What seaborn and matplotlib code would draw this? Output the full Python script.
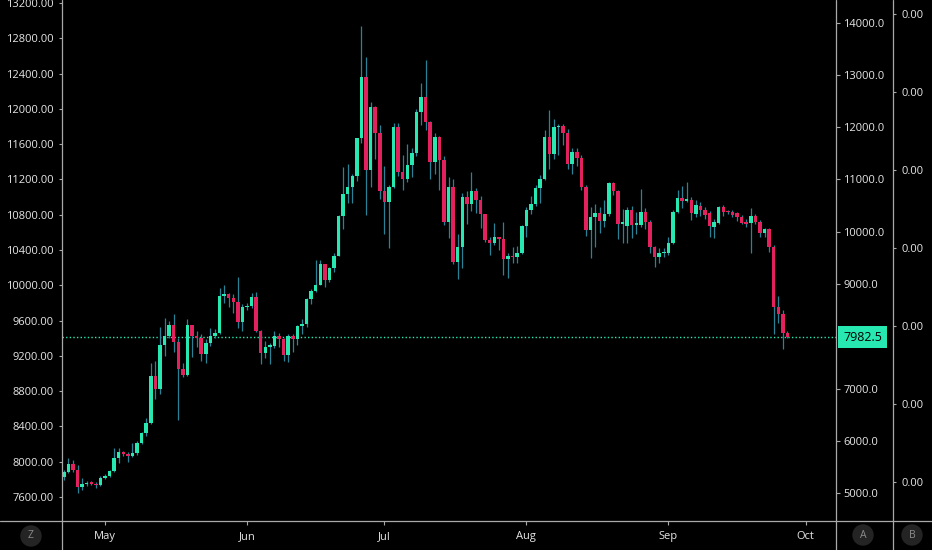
import numpy as np
import pandas as pd
import seaborn as sns
import matplotlib.pyplot as plt
import matplotlib.dates as mdates
from matplotlib.lines import Line2D

# Daily candles, 22 Apr - 27 Sep 2019 (values on the right price scale)
days = pd.date_range("2019-04-22", "2019-09-27", freq="D")

opens = [
    5310, 5410, 5550, 5440, 5120, 5170, 5200, 5180, 5150,
    5290, 5333, 5420, 5680, 5790, 5750, 5710, 5760, 5950, 6150,
    6340, 7230, 6990, 7830, 8000, 8210, 7890, 7370, 7260, 8210,
    8000, 7960, 7670, 7880, 8000, 8070, 8770, 8800, 8740, 8660, 8270,
    8560, 8580, 8750, 8100, 7680, 7800, 7820, 8000, 7940, 7640,
    8010, 7940, 8200, 8240, 8710, 8870, 8990, 9380, 9080, 9300,
    9540, 10300, 10720, 10850, 11060, 11790, 12955, 11180, 12380, 11880,
    10780, 10570, 10850, 12010, 11150, 11000, 11270, 11500, 12290, 12580,
    12100, 11330, 11810, 11380, 10190, 10850, 9420, 9710, 10660, 10530,
    10770, 10600, 10330, 9850, 9780, 9890, 9860, 9470, 9540, 9510, 9600,
    10110, 10420, 10540, 10830, 11000, 11820, 11480, 12000, 12030, 11880,
    11300, 11520, 11410, 10860, 10030, 10280, 10350, 10200, 10339, 10938,
    10785, 10148, 10110, 10416, 10129, 10129, 10384, 10192, 9702, 9510, 9590,
    9599, 9779, 10384, 10640, 10594, 10607, 10340, 10490, 10416, 10352,
    10100, 10174, 10470, 10395, 10384, 10350, 10280, 10174, 10160, 10300,
    10193, 9970, 10046, 9715, 8560, 8430, 8060,
]
highs = [
    5450, 5670, 5640, 5530, 5280, 5230, 5230, 5210, 5330,
    5360, 5450, 5860, 5860, 5810, 5780, 5960, 5990, 6170, 6430,
    7490, 7520, 8180, 8340, 8300, 8430, 7960, 7480, 8330, 8220,
    8100, 8050, 7950, 8150, 8130, 8920, 8980, 8820, 8800, 9130, 8620,
    8630, 8820, 8840, 8120, 7900, 7870, 8110, 8060, 7960, 8050,
    8040, 8220, 8330, 8730, 8900, 9450, 9460, 9390, 9330, 9600,
    10320, 11240, 11300, 11100, 11800, 13940, 13350, 12480, 12400, 12050,
    11250, 10900, 12080, 12080, 11460, 11680, 11600, 12350, 12850, 13280,
    12120, 11880, 11830, 11450, 11050, 11000, 9950, 10750, 10770, 11140,
    10840, 10680, 10340, 9900, 10170, 9890, 10190, 9600, 9700, 9720, 10120,
    10480, 10680, 10900, 11080, 11950, 12330, 12150, 12060, 12060, 11960,
    11600, 11600, 11460, 10890, 10470, 10540, 10470, 10600, 10950, 10960,
    10800, 10440, 10480, 10500, 10380, 10810, 10450, 10220, 9730, 9690, 9690,
    9900, 10420, 10800, 10870, 10960, 10660, 10600, 10560, 10480, 10400,
    10250, 10500, 10520, 10420, 10420, 10380, 10320, 10250, 10448, 10330,
    10230, 10080, 10080, 9740, 8770, 8500, 8110,
]
lows = [
    5250, 5380, 5410, 5000, 5060, 5130, 5150, 5090, 5130,
    5270, 5310, 5400, 5580, 5700, 5590, 5690, 5720, 5930, 6100,
    6330, 6800, 6900, 7620, 7970, 7700, 6400, 7220, 7240, 7600,
    7800, 7520, 7480, 7820, 7960, 8040, 8630, 8560, 8450, 8150, 8100,
    8500, 8540, 8080, 7470, 7580, 7460, 7770, 7800, 7520, 7500,
    7700, 7830, 8050, 8170, 8620, 8850, 8980, 8950, 9040, 9230,
    9530, 10050, 10550, 10550, 10980, 11700, 10320, 10860, 11400, 10630,
    9960, 9690, 10830, 11070, 10800, 10960, 11050, 11450, 12050, 11950,
    11000, 11100, 10800, 10130, 9880, 9380, 9100, 9300, 10150, 10400,
    10350, 10080, 9800, 9550, 9740, 9650, 9180, 9120, 9400, 9400, 9580,
    9900, 10330, 10500, 10550, 10990, 11200, 11400, 11460, 11650, 11200,
    11100, 11250, 10800, 9920, 9490, 9700, 9980, 10100, 10300, 10700,
    9870, 9780, 9780, 9880, 9950, 10100, 10050, 9600, 9330, 9400, 9510,
    9550, 9760, 10360, 10450, 10560, 10224, 10280, 10300, 10250, 9906,
    9874, 10150, 10300, 10330, 10280, 10200, 10140, 10100, 9587, 10150,
    9900, 9900, 9620, 8040, 8250, 7756, 7960,
]
closes = [
    5410, 5550, 5440, 5120, 5170, 5200, 5180, 5150, 5290,
    5333, 5420, 5680, 5790, 5750, 5710, 5760, 5950, 6150, 6340,
    7230, 6990, 7830, 8000, 8210, 7890, 7370, 7260, 8210, 8000,
    7960, 7670, 7880, 8000, 8070, 8770, 8800, 8740, 8660, 8270, 8560,
    8580, 8750, 8100, 7680, 7800, 7820, 8000, 7940, 7640, 8010,
    7940, 8200, 8240, 8710, 8870, 8990, 9380, 9080, 9300, 9540,
    10300, 10720, 10850, 11060, 11790, 12955, 11180, 12380, 11880, 10780,
    10570, 10850, 12010, 11150, 11000, 11270, 11500, 12290, 12580, 12100,
    11330, 11810, 11380, 10190, 10850, 9420, 9710, 10660, 10530, 10770,
    10600, 10330, 9850, 9780, 9890, 9860, 9470, 9540, 9510, 9600, 10110,
    10420, 10540, 10830, 11000, 11820, 11480, 12000, 12030, 11880, 11300,
    11520, 11410, 10860, 10030, 10280, 10350, 10200, 10339, 10938, 10785,
    10148, 10192, 10416, 10129, 10160, 10384, 10192, 9702, 9510, 9587, 9620,
    9790, 10384, 10640, 10594, 10610, 10352, 10512, 10416, 10320, 10110,
    10193, 10470, 10384, 10370, 10320, 10280, 10174, 10150, 10300, 10193,
    9970, 10046, 9715, 8560, 8430, 8060, 7982.5,
]

last_price = 7982.5
left_ticks = [7600, 8000, 8400, 8800, 9200, 9600, 10000, 10400, 10800,
              11200, 11600, 12000, 12400, 12800, 13200]
right_ticks = [5000, 6000, 7000, 9000, 10000, 11000, 12000, 13000, 14000]
month_starts = pd.date_range("2019-05-01", "2019-10-01", freq="MS")
month_labels = ["May", "Jun", "Jul", "Aug", "Sep", "Oct"]

UP = "#26e8b0"
DOWN = "#e3215f"
WICK = "#2a8296"
TXT = "#e6e6e6"
LINE = "#a9a9a9"
BG = "#000000"

sns.set_style("dark", {"axes.facecolor": BG, "figure.facecolor": BG})
plt.rcParams["font.family"] = ["Open Sans", "DejaVu Sans"]

df = pd.DataFrame({"x": mdates.date2num(days), "open": opens, "high": highs,
                   "low": lows, "close": closes})
df["up"] = df["close"] >= df["open"]
df["bottom"] = df[["open", "close"]].min(axis=1)
df["body"] = (df["close"] - df["open"]).abs().clip(lower=28)

W, H = 932, 550
fig = plt.figure(figsize=(W / 100, H / 100), dpi=100)
ax = fig.add_axes([62 / W, 29 / H, 774 / W, 521 / H])
ax2 = ax.twinx()
ax3 = ax.twinx()

# candles on the right price scale
ax2.vlines(df["x"], df["low"], df["high"], color=WICK, lw=0.9, zorder=2)
ax2.bar(df["x"], df["body"], bottom=df["bottom"], width=0.76,
        color=np.where(df["up"], UP, DOWN), linewidth=0, zorder=3)
ax2.axhline(last_price, color=UP, lw=1, ls=(0, (1, 1.6)), zorder=1)

x0 = mdates.date2num(pd.Timestamp("2019-05-01"))
ax.set_xlim(x0 - 9.39, x0 + 159.6)
ax.set_ylim(7328, 13234)
ax2.set_ylim(4465, 14434)
ax3.set_ylim(0, 1)

ax.set_xticks(mdates.date2num(month_starts))
ax.set_xticklabels(month_labels)
ax.set_yticks(left_ticks)
ax.set_yticklabels([f"{v:.2f}" for v in left_ticks])
ax2.set_yticks(right_ticks)
ax2.set_yticklabels([f"{v:.1f}" for v in right_ticks])
ax3.spines["right"].set_position(("axes", 1.0736))
ax3.set_yticks(np.linspace(0.075, 0.973, 7))
ax3.set_yticklabels(["0.00"] * 7)

for a in (ax, ax2, ax3):
    a.grid(False)
    for s in a.spines.values():
        s.set_visible(False)
ax.tick_params(axis="x", length=3, width=0.8, color=LINE, labelcolor=TXT,
               labelsize=8, pad=4, bottom=True)
ax.tick_params(axis="y", length=2.4, width=0.8, color=LINE, labelcolor=TXT,
               labelsize=8, pad=3.4, left=True)
ax2.tick_params(axis="y", length=2.6, width=0.8, color=LINE, labelcolor=TXT,
                labelsize=8, pad=2.8, right=True)
ax3.tick_params(axis="y", length=2.4, width=0.8, color=LINE, labelcolor=TXT,
                labelsize=8, pad=4, right=True)

# current price tag
ax2.text(1.0 + 7 / 774, last_price, f"{last_price:.1f}",
         transform=ax2.get_yaxis_transform(), ha="left", va="center",
         fontsize=9, color="black",
         bbox=dict(boxstyle="square,pad=0.38", fc=UP, ec="none"), zorder=5)

# pane borders
for (xa, ya, xb, yb) in [(62, 0, 62, 550), (836, 0, 836, 550),
                         (893, 0, 893, 550), (0, 521, 932, 521)]:
    fig.add_artist(Line2D([xa / W, xb / W], [1 - ya / H, 1 - yb / H],
                          transform=fig.transFigure, color=LINE, lw=0.9))

# scale buttons
for label, bx, by in [("Z", 31, 536), ("A", 863, 535), ("B", 912, 535)]:
    fig.text(bx / W, 1 - by / H, label, ha="center", va="center", fontsize=7.5,
             color="#8c8c8c",
             bbox=dict(boxstyle="circle,pad=0.5", fc="#242424", ec="none"))

fig.savefig("out.png", dpi=100, facecolor=BG)
